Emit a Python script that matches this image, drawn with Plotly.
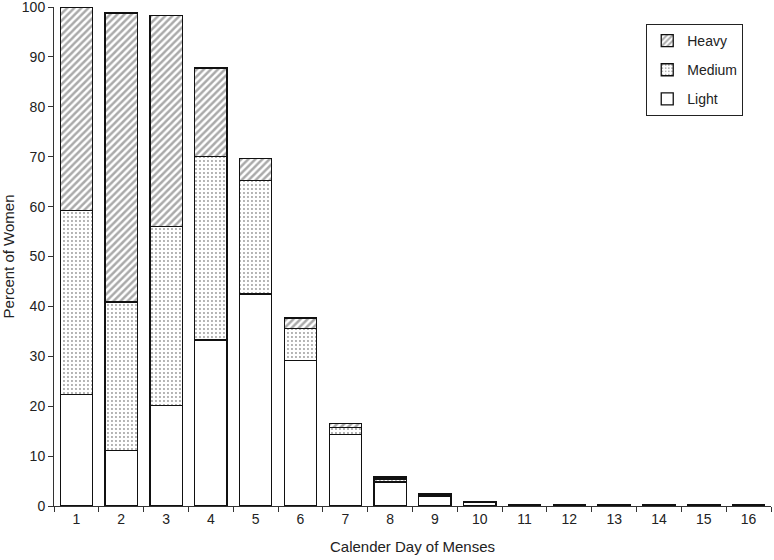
import plotly.graph_objects as go

# Percent of women by flow level on each calendar day of menses
days = [str(d) for d in range(1, 17)]
light = [22.3, 11.1, 20.1, 33.3, 42.5, 29.1, 14.4, 4.8, 2.0, 0.8, 0.3, 0.3, 0.3, 0.3, 0.3, 0.3]
medium = [36.9, 29.8, 35.9, 36.8, 22.8, 6.5, 1.4, 0.6, 0.2, None, None, None, None, None, None, None]
heavy = [40.8, 57.9, 42.3, 17.7, 4.3, 2.1, 0.8, 0.4, 0.2, None, None, None, None, None, None, None]

font = "Liberation Sans, Arial, sans-serif"
outline = dict(color="#111", width=1.3)

fig = go.Figure()

fig.add_trace(go.Bar(
    x=days, y=light, name="Light", legendgroup="light", legendrank=3,
    marker=dict(color="white", line=outline),
))
fig.add_trace(go.Bar(
    x=days, y=medium, name="Medium", legendgroup="medium", legendrank=2,
    marker=dict(color="white", line=outline,
                pattern=dict(shape=".", fgcolor="#333", bgcolor="white",
                             size=4, solidity=0.18)),
))
fig.add_trace(go.Bar(
    x=days, y=heavy, name="Heavy", legendgroup="heavy", legendrank=1,
    marker=dict(color="white", line=outline,
                pattern=dict(shape="/", fgcolor="#555", bgcolor="white",
                             size=5, solidity=0.5)),
))

fig.update_layout(
    barmode="stack",
    bargap=0.28,
    width=774, height=560,
    margin=dict(l=54, r=3, t=7, b=54),
    plot_bgcolor="white",
    paper_bgcolor="white",
    font=dict(family=font, size=14, color="#222"),
    showlegend=True,
    legend=dict(
        x=0.826, y=0.966, xanchor="left", yanchor="top",
        traceorder="grouped", tracegroupgap=8,
        bordercolor="#222", borderwidth=1, bgcolor="white",
        font=dict(size=14),
    ),
    xaxis=dict(
        title=dict(text="Calender Day of Menses", font=dict(size=15)),
        type="category", automargin=False,
        showline=True, linecolor="#333", linewidth=1,
        ticks="outside", tickson="boundaries", ticklen=5, tickcolor="#333",
        showgrid=False,
    ),
    yaxis=dict(
        title=dict(text="Percent of Women", font=dict(size=15)),
        range=[0, 100.01], dtick=10, automargin=False,
        ticklabeloverflow="allow",
        showline=True, linecolor="#333", linewidth=1,
        ticks="outside", ticklen=5, tickcolor="#333",
        showgrid=False, zeroline=False,
    ),
)

# page body has a default 8px margin; drop it so the chart fills the window
fig.write_html("out.html", config={"displayModeBar": False},
               post_script="document.body.style.margin='0';")
